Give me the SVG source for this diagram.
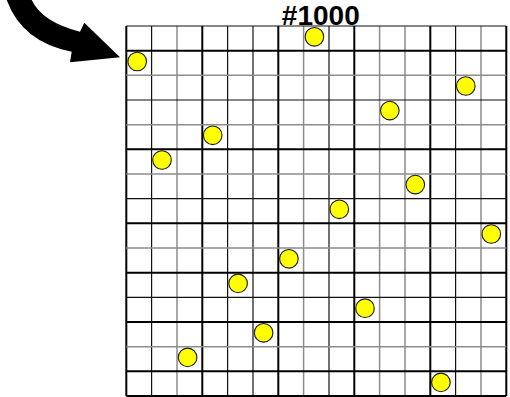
<svg xmlns="http://www.w3.org/2000/svg" width="510" height="397" viewBox="0 0 510 397">
<style>
.t{stroke:#000;stroke-width:2}
.b{stroke:#111;stroke-width:1.2}
.g{stroke:#8c8c8c;stroke-width:1.5}
.dot{fill:#ffff00;stroke:#1a1a1a;stroke-width:1.1}
.lbl{font-family:"Liberation Sans",Arial,sans-serif;font-weight:bold;font-size:28px;fill:#000}
</style>
<rect width="510" height="397" fill="#fff"/>
<g id="grid">
<line class="t" x1="126.3" y1="26" x2="126.3" y2="396"/>
<line class="b" x1="151.6" y1="26" x2="151.6" y2="396"/>
<line class="g" x1="177" y1="26" x2="177" y2="396"/>
<line class="t" x1="202.3" y1="26" x2="202.3" y2="396"/>
<line class="b" x1="227.6" y1="26" x2="227.6" y2="396"/>
<line class="b" x1="253" y1="26" x2="253" y2="396"/>
<line class="t" x1="278.3" y1="26" x2="278.3" y2="396"/>
<line class="g" x1="303.6" y1="26" x2="303.6" y2="396"/>
<line class="b" x1="329" y1="26" x2="329" y2="396"/>
<line class="t" x1="354.3" y1="26" x2="354.3" y2="396"/>
<line class="g" x1="379.6" y1="26" x2="379.6" y2="396"/>
<line class="g" x1="405" y1="26" x2="405" y2="396"/>
<line class="t" x1="430.3" y1="26" x2="430.3" y2="396"/>
<line class="b" x1="455.6" y1="26" x2="455.6" y2="396"/>
<line class="g" x1="481" y1="26" x2="481" y2="396"/>
<line class="t" x1="506.3" y1="26" x2="506.3" y2="396"/>
<line class="b" x1="126.3" y1="26" x2="506.3" y2="26"/>
<line class="t" x1="126.3" y1="50.7" x2="506.3" y2="50.7"/>
<line class="g" x1="126.3" y1="75.3" x2="506.3" y2="75.3"/>
<line class="b" x1="126.3" y1="100" x2="506.3" y2="100"/>
<line class="g" x1="126.3" y1="124.7" x2="506.3" y2="124.7"/>
<line class="t" x1="126.3" y1="149.3" x2="506.3" y2="149.3"/>
<line class="g" x1="126.3" y1="174" x2="506.3" y2="174"/>
<line class="b" x1="126.3" y1="198.7" x2="506.3" y2="198.7"/>
<line class="t" x1="126.3" y1="223.3" x2="506.3" y2="223.3"/>
<line class="g" x1="126.3" y1="248" x2="506.3" y2="248"/>
<line class="t" x1="126.3" y1="272.7" x2="506.3" y2="272.7"/>
<line class="b" x1="126.3" y1="297.3" x2="506.3" y2="297.3"/>
<line class="t" x1="126.3" y1="322" x2="506.3" y2="322"/>
<line class="g" x1="126.3" y1="346.7" x2="506.3" y2="346.7"/>
<line class="t" x1="126.3" y1="371.3" x2="506.3" y2="371.3"/>
<line class="t" x1="126.3" y1="396" x2="506.3" y2="396"/>
</g>
<g id="dot-c0-r1"><circle class="dot" cx="137.2" cy="61.5" r="9.3"/></g>
<g id="dot-c7-r0"><circle class="dot" cx="314.4" cy="36.8" r="9.3"/></g>
<g id="dot-c13-r2"><circle class="dot" cx="465.8" cy="86" r="9.3"/></g>
<g id="dot-c10-r3"><circle class="dot" cx="389.8" cy="110.6" r="9.3"/></g>
<g id="dot-c3-r4"><circle class="dot" cx="212.7" cy="135.3" r="9.3"/></g>
<g id="dot-c1-r5"><circle class="dot" cx="162" cy="160" r="9.3"/></g>
<g id="dot-c11-r6"><circle class="dot" cx="415.3" cy="184.6" r="9.3"/></g>
<g id="dot-c8-r7"><circle class="dot" cx="339.3" cy="209.3" r="9.3"/></g>
<g id="dot-c14-r8"><circle class="dot" cx="491.3" cy="234" r="9.3"/></g>
<g id="dot-c6-r9"><circle class="dot" cx="288.9" cy="258.8" r="9.3"/></g>
<g id="dot-c4-r10"><circle class="dot" cx="238.1" cy="283.4" r="9.3"/></g>
<g id="dot-c9-r11"><circle class="dot" cx="365" cy="308.2" r="9.3"/></g>
<g id="dot-c5-r12"><circle class="dot" cx="263.6" cy="332.8" r="9.3"/></g>
<g id="dot-c2-r13"><circle class="dot" cx="187.6" cy="357.4" r="9.3"/></g>
<g id="dot-c12-r14"><circle class="dot" cx="440.9" cy="382.4" r="9.3"/></g>
<g id="title"><text class="lbl" x="320.8" y="25" text-anchor="middle">#1000</text></g>
<g id="connectors">
<path d="M31.7 0 Q42 22 80 31.7 L84.3 22.7 L120 57.3 L70 62.3 L71.7 51.7 Q22 42 6.7 0 Z" fill="#000"/>
</g>
</svg>
